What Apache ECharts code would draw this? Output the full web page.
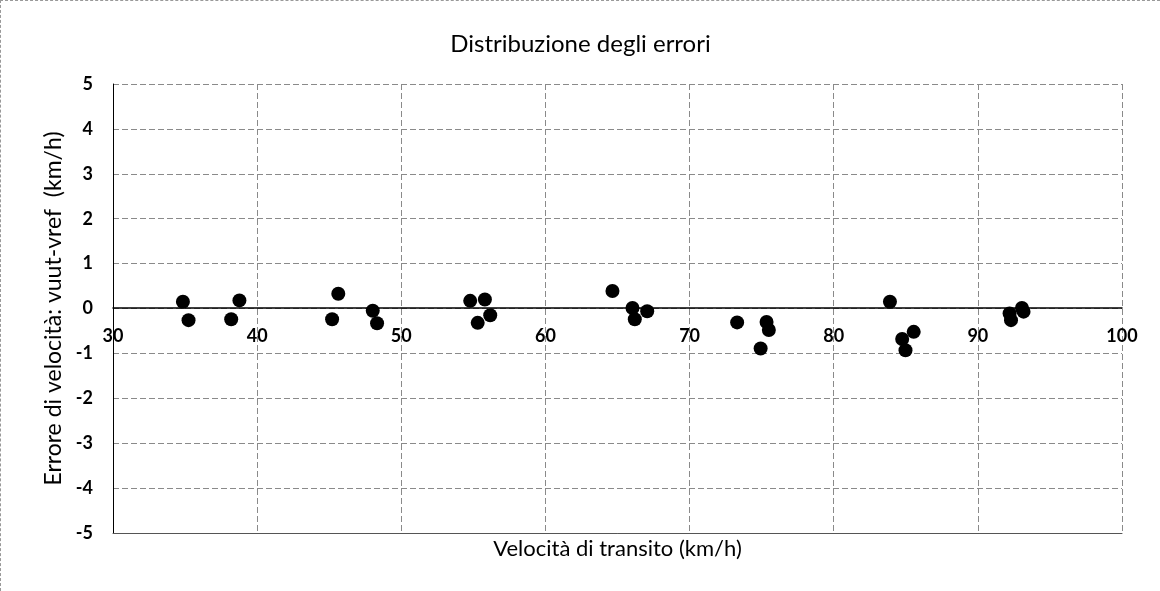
<!DOCTYPE html>
<html>
<head>
<meta charset="utf-8">
<script src="https://cdn.jsdelivr.net/npm/echarts@6/dist/echarts.min.js"></script>
<style>
  html, body { margin: 0; padding: 0; background: #fff; }
  #chart {
    width: 1160px;
    height: 591px;
    box-sizing: border-box;
    border-left: 1px dashed #999;
    border-top: 1px dashed #999;
  }
</style>
</head>
<body>
<div id="chart"></div>
<script>
// velocità di transito (km/h)
const speeds = [
  34.85, 35.24, 38.2, 38.77,
  45.2, 45.63, 48.02, 48.32,
  54.78, 55.3, 55.8, 56.17,
  64.65, 66.04, 66.2, 67.06,
  73.3, 74.93, 75.34, 75.5,
  83.9, 84.75, 84.98, 85.55,
  92.2, 92.3, 93.06, 93.17,
]
// errore vuut - vref (km/h)
const errors = [
  0.15, -0.26, -0.24, 0.18,
  -0.24, 0.33, -0.05, -0.33,
  0.17, -0.32, 0.2, -0.15,
  0.39, 0.01, -0.24, -0.06,
  -0.31, -0.89, -0.3, -0.48,
  0.15, -0.68, -0.93, -0.52,
  -0.11, -0.26, 0.01, -0.07,
]
const xTicks = [30, 40, 50, 60, 70, 80, 90, 100]
const yTicks = [-5, -4, -3, -2, -1, 0, 1, 2, 3, 4, 5]

const font = 'Lato, "Open Sans", sans-serif'
const gridTop = 83
const gridBottom = 58
const plotHeight = 591 - gridTop - gridBottom
const chart = echarts.init(document.getElementById('chart'))

const gridLine = { lineStyle: { color: '#8a8a8a', type: [6, 3], width: 1 } }

chart.setOption({
  animation: false,
  title: {
    text: 'Distribuzione degli errori',
    left: 'center',
    top: 26,
    textStyle: { fontFamily: font, fontSize: 24, fontWeight: 'normal', color: '#000' },
  },
  grid: { left: 112, right: 38, top: gridTop, bottom: gridBottom },
  xAxis: [
    {
      // axis drawn across y = 0, like Excel's crossing axis
      type: 'value',
      min: xTicks[0],
      max: xTicks[xTicks.length - 1],
      interval: 10,
      position: 'bottom',
      offset: -plotHeight / 2,
      axisLine: { onZero: false, lineStyle: { color: '#000', width: 1.5 } },
      axisTick: { show: false },
      axisLabel: { fontFamily: font, fontSize: 18, fontWeight: 'bold', color: '#000', margin: 19 },
      splitLine: gridLine,
    },
    {
      // bottom frame line + axis title
      type: 'value',
      min: xTicks[0],
      max: xTicks[xTicks.length - 1],
      interval: 10,
      position: 'bottom',
      name: 'Velocità di transito (km/h)',
      nameLocation: 'middle',
      nameGap: 5,
      nameTextStyle: { fontFamily: font, fontSize: 22, color: '#000' },
      axisLine: { onZero: false, lineStyle: { color: '#555', width: 1 } },
      axisTick: { show: false },
      axisLabel: { show: false },
      splitLine: { show: false },
    },
  ],
  yAxis: {
    type: 'value',
    min: yTicks[0],
    max: yTicks[yTicks.length - 1],
    interval: 1,
    name: 'Errore di velocità: vuut-vref  (km/h)',
    nameLocation: 'middle',
    nameGap: 48,
    nameTextStyle: { fontFamily: font, fontSize: 23, color: '#000' },
    axisLine: { show: true, onZero: false, lineStyle: { color: '#000', width: 1 } },
    axisTick: { show: false },
    axisLabel: { fontFamily: font, fontSize: 18, fontWeight: 'bold', color: '#000', margin: 20 },
    splitLine: gridLine,
  },
  series: [
    {
      type: 'scatter',
      xAxisIndex: 0,
      data: speeds.map((s, i) => [s, errors[i]]),
      symbol: 'circle',
      symbolSize: 14,
      itemStyle: { color: '#000', opacity: 1 },
    },
  ],
})
</script>
</body>
</html>
